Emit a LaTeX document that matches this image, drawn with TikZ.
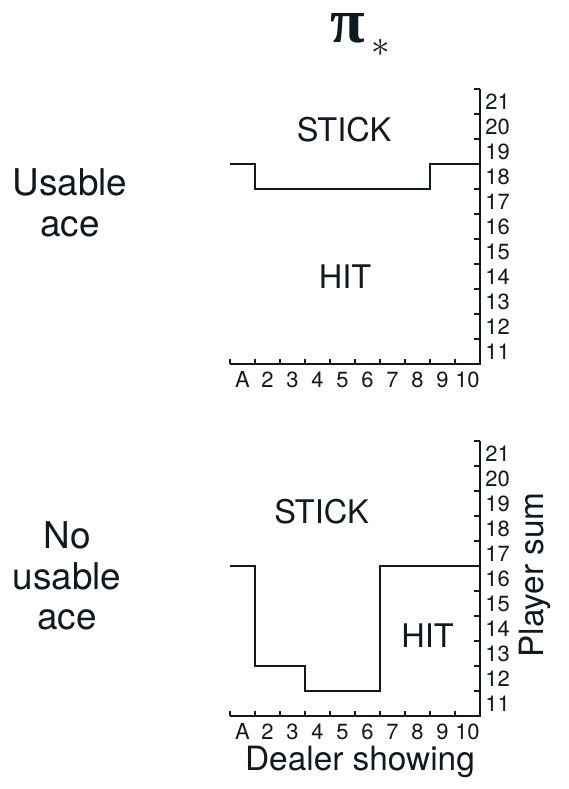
\documentclass[tikz,border=0pt]{standalone}
\usepackage{fontspec}
\setmainfont{TeX Gyre Heros}
\newfontfamily\pifont{Liberation Serif}
\usetikzlibrary{positioning}
\definecolor{ink}{RGB}{16,24,32}

\begin{document}
\begin{tikzpicture}[x=0.5cm,y=0.5cm,color=ink]
\tikzset{
  axisline/.style={line width=0.85pt},
  policy/.style={line width=1.15pt},
  region/.style={font=\fontsize{18.5}{20}\selectfont},
  xlab/.style={font=\fontsize{12.5}{12.5}\selectfont, inner sep=0pt, anchor=base},
  ylab/.style={font=\fontsize{12.5}{12.5}\selectfont, inner sep=0pt, anchor=west},
  sidelabel/.style={align=center, font=\fontsize{21}{23}\selectfont},
  axislabel/.style={font=\fontsize{19}{20}\selectfont}
}
\useasboundingbox (-9.2,-17.0) rectangle (13.52,14.56);

% title
\node[inner sep=0pt] (pi) at (4.72,13.44) {\fontsize{36}{36}\selectfont\pifont\bfseries π};
\node[inner sep=0pt, scale=2.1] (star) at (6.04,12.64) {$\ast$};

% usable ace
\begin{scope}
\coordinate (O1) at (0,0);
\coordinate (X1) at (10,0);
\coordinate (Y1) at (10,11);
\draw[axisline] (O1) -- (X1) -- (Y1);
\foreach \i in {0,...,9} \draw[axisline] (\i,0) -- ++(0,0.22);
\foreach \j in {0,...,11} \draw[axisline] (10,\j) -- ++(-0.24,0);
\foreach \c [count=\i] in {A,2,3,4,5,6,7,8,9,10}
  \node[xlab] (ux\i) at (\i-0.5,-0.94) {\c};
\foreach \s in {11,...,21}
  \node[ylab] (uy\s) at (10.2,\s-10.5) {\s};

\draw[policy] (0,8) -- (1,8) -- (1,7) -- (8,7) -- (8,8) -- (10,8);

\node[region] (ustick) at (4.56,9.36) {STICK};
\node[region] (uhit) at (4.6,3.5) {HIT};
\node[sidelabel] (usable) at (-6.4,6.44) {Usable\\ace};
\end{scope}

% no usable ace
\begin{scope}[yshift=-14.08*0.5cm]
\coordinate (O2) at (0,0);
\coordinate (X2) at (10,0);
\coordinate (Y2) at (10,11);
\draw[axisline] (O2) -- (X2) -- (Y2);
\foreach \i in {0,...,9} \draw[axisline] (\i,0) -- ++(0,0.22);
\foreach \j in {0,...,11} \draw[axisline] (10,\j) -- ++(-0.24,0);
\foreach \c [count=\i] in {A,2,3,4,5,6,7,8,9,10}
  \node[xlab] (nx\i) at (\i-0.5,-0.94) {\c};
\foreach \s in {11,...,21}
  \node[ylab] (ny\s) at (10.2,\s-10.5) {\s};

\draw[policy] (0,6) -- (1,6) -- (1,2) -- (3,2) -- (3,1) -- (6,1) -- (6,6) -- (10,6);

\node[region] (nstick) at (3.66,8.16) {STICK};
\node[region] (nhit) at (7.9,3.2) {HIT};
\node[sidelabel] (nousable) at (-6.52,5.6) {No\\usable\\ace};

\node[axislabel, rotate=90] (psum) at (12.2,5.64) {Player sum};
\node[axislabel] (dealer) at (5.2,-1.84) {Dealer showing};
\end{scope}
\end{tikzpicture}
\end{document}
